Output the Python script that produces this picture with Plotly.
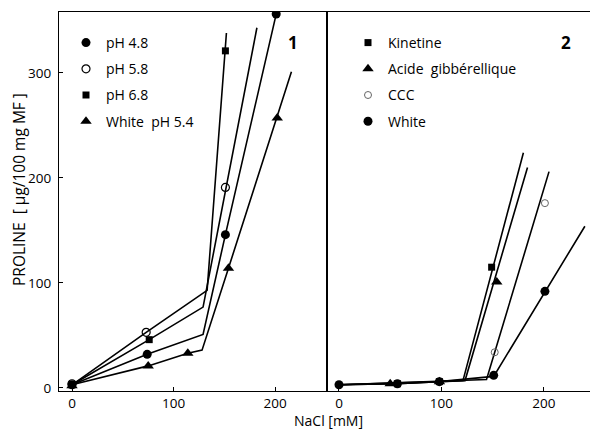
import plotly.graph_objects as go

# ---------------- Panel 1 data ----------------
# fitted line segments (as drawn)
p1_line_a_x = [0, 73, 133, 152]
p1_line_a_y = [3, 53, 93, 338]
p1_line_b_x = [0, 76, 129, 182]
p1_line_b_y = [3, 46, 77, 343]
p1_line_c_x = [0, 74, 129, 151, 201]
p1_line_c_y = [3, 32, 51, 146, 356]
p1_line_d_x = [0, 75, 114, 128, 154, 202, 216]
p1_line_d_y = [3, 21, 33, 36, 114, 257, 301]

# measured points
ph48_x = [0, 74, 151, 201]
ph48_y = [3, 32, 146, 356]
ph58_x = [0, 73, 151]
ph58_y = [4, 53, 191]
ph68_x = [0, 76, 151]
ph68_y = [3, 46, 321]
white54_x = [0, 75, 114, 154, 202]
white54_y = [2, 21, 33, 114, 257]

# ---------------- Panel 2 data ----------------
p2_line_k_x = [0, 50, 57, 98, 121, 180]
p2_line_k_y = [3, 4, 4, 6, 7, 224]
p2_line_g_x = [0, 50, 57, 98, 123, 184]
p2_line_g_y = [3, 4, 4, 6, 7, 210]
p2_line_c_x = [0, 98, 144, 205]
p2_line_c_y = [3, 6, 8, 206]
p2_line_w_x = [0, 98, 151, 240]
p2_line_w_y = [3, 6, 11, 154]

kin_x = [57, 98, 149]
kin_y = [4, 6, 115]
gib_x = [50, 98, 154]
gib_y = [4, 6, 101]
ccc_x = [152, 201]
ccc_y = [34, 176]
wh_x = [0, 57, 98, 151, 201]
wh_y = [3, 4, 6, 12, 92]

x_ticks = [0, 100, 200]
y_ticks = [0, 100, 200, 300]

FONT = "Open Sans"
LW = 1.6

fig = go.Figure()

def add_line(x, y, xa, ya):
    fig.add_trace(go.Scatter(x=x, y=y, mode="lines", xaxis=xa, yaxis=ya,
                             line=dict(color="black", width=LW),
                             showlegend=False, hoverinfo="skip"))

for lx, ly in [(p1_line_a_x, p1_line_a_y), (p1_line_b_x, p1_line_b_y),
               (p1_line_c_x, p1_line_c_y), (p1_line_d_x, p1_line_d_y)]:
    add_line(lx, ly, "x", "y")
for lx, ly in [(p2_line_k_x, p2_line_k_y), (p2_line_g_x, p2_line_g_y),
               (p2_line_c_x, p2_line_c_y), (p2_line_w_x, p2_line_w_y)]:
    add_line(lx, ly, "x2", "y2")

def add_pts(x, y, name, symbol, size, xa, ya, legend, group, fill="black", lw=0, lc="black"):
    fig.add_trace(go.Scatter(x=x, y=y, mode="markers", name=name, xaxis=xa, yaxis=ya,
                             marker=dict(symbol=symbol, size=size, color=fill,
                                         line=dict(color=lc, width=lw)),
                             legend=legend, legendgroup=group))

add_pts(ph48_x, ph48_y, "pH 4.8", "circle", 9, "x", "y", "legend", "a")
add_pts(ph58_x, ph58_y, "pH 5.8", "circle-open", 8, "x", "y", "legend", "b", fill="black", lw=1.2)
add_pts(ph68_x, ph68_y, "pH 6.8", "square", 7, "x", "y", "legend", "c")
add_pts(white54_x, white54_y, "White  pH 5.4", "triangle-up", 10, "x", "y", "legend", "d")

add_pts(kin_x, kin_y, "Kinetine", "square", 7, "x2", "y2", "legend2", "e")
add_pts(gib_x, gib_y, "Acide  gibbérellique", "triangle-up", 10, "x2", "y2", "legend2", "f")
add_pts(ccc_x, ccc_y, "CCC", "circle-open", 7, "x2", "y2", "legend2", "g", fill="#666", lw=1, lc="#666")
add_pts(wh_x, wh_y, "White", "circle", 9, "x2", "y2", "legend2", "h")

axis_common = dict(showline=True, linecolor="black", linewidth=1.3, showgrid=False,
                   zeroline=False, ticks="inside", ticklen=4, tickcolor="black",
                   tickfont=dict(family=FONT, size=13.5, color="black"))

D = (327 - 59) / 531

fig.update_layout(
    width=590, height=432,
    margin=dict(l=59, r=0, t=12, b=41),
    paper_bgcolor="white", plot_bgcolor="white",
    font=dict(family=FONT, color="black"),
    xaxis=dict(domain=[0, D], range=[-12.8, 251], tickvals=x_ticks, mirror=True,
               anchor="y", **axis_common),
    yaxis=dict(range=[-2.9, 358], tickvals=y_ticks, anchor="x", mirror=True,
               ticklabelstandoff=4, **axis_common),
    xaxis2=dict(domain=[D, 1], range=[-11.7, 245], tickvals=x_ticks, mirror=True,
                anchor="y2", **axis_common),
    yaxis2=dict(range=[-2.9, 358], anchor="x2", showline=True, linecolor="black",
                linewidth=1.3, showgrid=False, zeroline=False, showticklabels=False,
                ticks=""),
    legend=dict(x=(66 - 59) / 531, y=(391 - 27) / 379, xanchor="left", yanchor="top",
                bgcolor="rgba(0,0,0,0)", font=dict(family=FONT, size=14),
                tracegroupgap=5, itemwidth=30),
    legend2=dict(x=(348 - 59) / 531, y=(391 - 27) / 379, xanchor="left", yanchor="top",
                 bgcolor="rgba(0,0,0,0)", font=dict(family=FONT, size=14),
                 tracegroupgap=5, itemwidth=30),
    showlegend=True,
)

fig.add_annotation(text="PROLINE  [ µg/100 mg MF ]", xref="paper", yref="paper",
                   x=(19 - 59) / 531, y=(391 - 190) / 379, textangle=-90,
                   xanchor="center", yanchor="middle",
                   showarrow=False, font=dict(family=FONT, size=15.5))
fig.add_annotation(text="NaCl [mM]", xref="paper", yref="paper",
                   x=(328 - 59) / 531, y=(391 - 420) / 379,
                   xanchor="center", yanchor="middle",
                   showarrow=False, font=dict(family=FONT, size=14))
fig.add_annotation(text="<b>1</b>", xref="paper", yref="paper",
                   x=(293 - 59) / 531, y=(391 - 42) / 379,
                   xanchor="center", yanchor="middle",
                   showarrow=False, font=dict(family=FONT, size=17))
fig.add_annotation(text="<b>2</b>", xref="paper", yref="paper",
                   x=(566 - 59) / 531, y=(391 - 42) / 379,
                   xanchor="center", yanchor="middle",
                   showarrow=False, font=dict(family=FONT, size=17))

fig.write_html("out.html")
